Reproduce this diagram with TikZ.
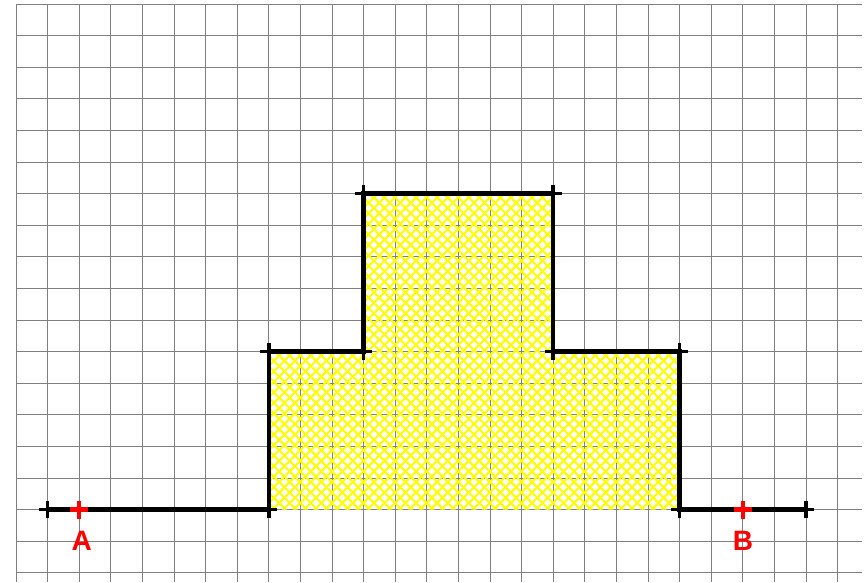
\documentclass[tikz,border=0pt]{standalone}
\usepackage{fontspec}
\setmainfont{Liberation Sans}
\usetikzlibrary{patterns}
\usetikzlibrary{shapes.misc}

\pgfdeclarepatternformonly{yellowhatch}{\pgfqpoint{-1pt}{-1pt}}{\pgfqpoint{8.9pt}{8.9pt}}{\pgfqpoint{7.9pt}{7.9pt}}{%
  \pgfsetlinewidth{1.5pt}%
  \pgfpathmoveto{\pgfqpoint{-0.4pt}{-0.4pt}}\pgfpathlineto{\pgfqpoint{8.3pt}{8.3pt}}%
  \pgfpathmoveto{\pgfqpoint{-0.4pt}{8.3pt}}\pgfpathlineto{\pgfqpoint{8.3pt}{-0.4pt}}%
  \pgfusepath{stroke}}

\begin{document}
\begin{tikzpicture}[x=0.75pt,y=0.75pt,yscale=-1,xscale=1,
  gridline/.style={color={rgb, 255:red, 128; green, 128; blue, 128}, line width=0.75pt},
  vertexmark/.style={draw, cross out, rotate=45, minimum size=6.4pt, inner sep=0pt, line width=2.6pt},
  pointmark/.style={vertexmark, draw=red, line width=3.2pt},
  pointlabel/.style={text=red, font=\fontsize{21}{24}\selectfont\bfseries, inner sep=0.75pt}]
    \useasboundingbox (0,0) rectangle (864,582);

    %Grid
    \foreach \i in {0,...,26} \draw [gridline] ({16+31.6*\i},4) -- ({16+31.6*\i},582);
    \foreach \j in {0,...,18} \draw [gridline] (16,{4+31.6*\j}) -- (862,{4+31.6*\j});

    %Corners of the shape
    \coordinate (left) at (47.6,509.6);
    \coordinate (right) at (806,509.6);
    \coordinate (c1) at (268.8,509.6);
    \coordinate (c2) at (268.8,351.6);
    \coordinate (c3) at (363.6,351.6);
    \coordinate (c4) at (363.6,193.6);
    \coordinate (c5) at (553.2,193.6);
    \coordinate (c6) at (553.2,351.6);
    \coordinate (c7) at (679.6,351.6);
    \coordinate (c8) at (679.6,509.6);

    %Hatched region
    \fill [pattern=yellowhatch, pattern color=yellow] (c1) -- (c2) -- (c3) -- (c4) -- (c5) -- (c6) -- (c7) -- (c8) -- cycle;

    %Vertex marks
    \foreach \c in {left,right,c1,c2,c3,c4,c5,c6,c7,c8} \node [vertexmark] at (\c) {};

    %Outline
    \draw [line width=3.4pt] (left) -- (c1) -- (c2) -- (c3) -- (c4) -- (c5) -- (c6) -- (c7) -- (c8) -- (right);

    %Points A and B
    \node [pointmark] (A) at (79.2,509.6) {};
    \node [pointmark] (B) at (742.8,509.6) {};

    % Text Node
    \node [pointlabel] (labA) at (81.7,540.5) {A};
    % Text Node
    \node [pointlabel] (labB) at (743,540.5) {B};
\end{tikzpicture}
\end{document}
